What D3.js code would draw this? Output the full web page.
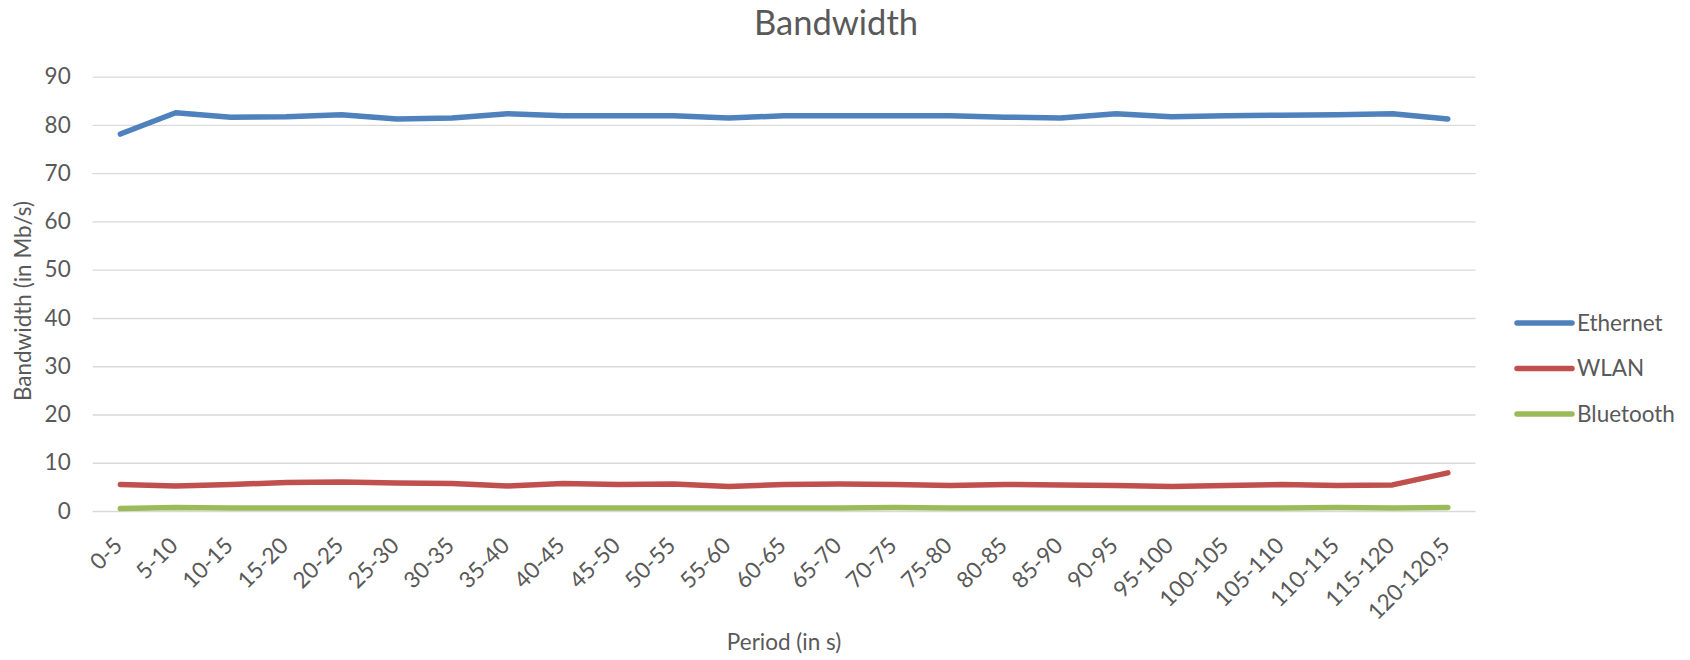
<!DOCTYPE html>
<html>
<head>
<meta charset="utf-8">
<script src="https://cdn.jsdelivr.net/npm/d3@7"></script>
<style>
  html, body { margin: 0; padding: 0; background: #ffffff; }
  svg { display: block; font-family: Lato, "Open Sans", sans-serif; }
</style>
</head>
<body>
<svg id="chart" width="1690" height="660"></svg>
<script>
// Measurement periods (seconds)
const periods = ["0-5","5-10","10-15","15-20","20-25","25-30","30-35","35-40","40-45","45-50",
  "50-55","55-60","60-65","65-70","70-75","75-80","80-85","85-90","90-95","95-100",
  "100-105","105-110","110-115","115-120","120-120,5"];

// Bandwidth per period, Mb/s
const ethernet = [78.1,82.5,81.6,81.7,82.1,81.2,81.4,82.3,81.9,81.9,81.9,81.4,81.9,81.9,81.9,
  81.9,81.6,81.4,82.3,81.7,81.9,82.0,82.1,82.3,81.2];
const wlan = [5.5,5.2,5.5,5.9,6.0,5.8,5.7,5.2,5.7,5.5,5.6,5.1,5.5,5.6,5.5,5.3,5.5,5.4,5.3,5.1,
  5.3,5.5,5.3,5.4,7.9];
const bluetooth = [0.5,0.7,0.6,0.6,0.6,0.6,0.6,0.6,0.6,0.6,0.6,0.6,0.6,0.6,0.7,0.6,0.6,0.6,0.6,
  0.6,0.6,0.6,0.7,0.6,0.7];

const seriesNames = ["Ethernet", "WLAN", "Bluetooth"];
const seriesColors = ["#4f81bd", "#c0504d", "#9bbb59"];
const yTicks = [0,10,20,30,40,50,60,70,80,90];

const series = [ethernet, wlan, bluetooth].map((values, i) => ({
  name: seriesNames[i], color: seriesColors[i], values
}));

const svg = d3.select("#chart");
const textColor = "#595959";
const labelSize = "22.5px";
const plot = { left: 92.7, right: 1475.5, top: 76.6, bottom: 511 };

const x = d3.scalePoint().domain(periods).range([plot.left, plot.right]).padding(0.5);
const y = d3.scaleLinear().domain([0, 90]).range([plot.bottom, plot.top]);

// Title
svg.append("text")
  .attr("x", 836).attr("y", 35)
  .attr("text-anchor", "middle")
  .attr("fill", textColor)
  .style("font-size", "34.5px")
  .text("Bandwidth");

// Horizontal gridlines and value labels
const yAxis = svg.append("g")
  .attr("transform", `translate(${plot.left},0)`)
  .call(d3.axisLeft(y).tickValues(yTicks).tickSize(-(plot.right - plot.left)).tickPadding(22));
yAxis.select(".domain").remove();
yAxis.selectAll(".tick line").attr("stroke", "#d9d9d9").attr("stroke-width", 1.4);
yAxis.selectAll(".tick text")
  .attr("fill", textColor)
  .style("font-size", labelSize)
  .style("font-family", "Lato, 'Open Sans', sans-serif");

// Category labels, rotated
const xAxis = svg.append("g")
  .attr("transform", `translate(0,${plot.bottom})`)
  .call(d3.axisBottom(x).tickSize(0));
xAxis.select(".domain").remove();
xAxis.selectAll(".tick text")
  .attr("x", 0).attr("y", 0).attr("dy", 0)
  .attr("transform", "translate(3,36) rotate(-45)")
  .attr("text-anchor", "end")
  .attr("fill", textColor)
  .style("font-size", labelSize)
  .style("font-family", "Lato, 'Open Sans', sans-serif");

// Axis titles
svg.append("text")
  .attr("x", (plot.left + plot.right) / 2).attr("y", 650)
  .attr("text-anchor", "middle")
  .attr("fill", textColor)
  .style("font-size", labelSize)
  .text("Period (in s)");

svg.append("text")
  .attr("transform", "translate(31,301) rotate(-90)")
  .attr("text-anchor", "middle")
  .attr("fill", textColor)
  .style("font-size", labelSize)
  .text("Bandwidth (in Mb/s)");

// Series lines
const line = d3.line()
  .x((d, i) => x(periods[i]))
  .y(d => y(d));

svg.append("g").selectAll("path")
  .data(series.slice().reverse())
  .join("path")
  .attr("d", d => line(d.values))
  .attr("fill", "none")
  .attr("stroke", d => d.color)
  .attr("stroke-width", 5.5)
  .attr("stroke-linecap", "round")
  .attr("stroke-linejoin", "round");

// Legend
const legend = svg.append("g").selectAll("g")
  .data(series)
  .join("g")
  .attr("transform", (d, i) => `translate(1517,${323 + i * 45.5})`);
legend.append("line")
  .attr("x1", 0).attr("x2", 55)
  .attr("stroke", d => d.color)
  .attr("stroke-width", 5.5)
  .attr("stroke-linecap", "round");
legend.append("text")
  .attr("x", 60).attr("dy", "0.35em")
  .attr("fill", textColor)
  .style("font-size", labelSize)
  .text(d => d.name);
</script>
</body>
</html>
